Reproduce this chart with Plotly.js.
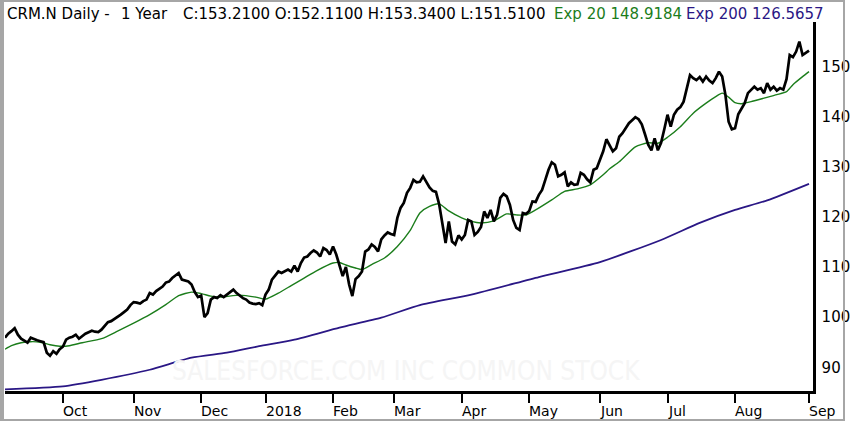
<!DOCTYPE html>
<html>
<head>
<meta charset="utf-8">
<script src="https://cdn.plot.ly/plotly-3.0.1.min.js"></script>
<style>
  html, body { margin: 0; padding: 0; background: #ffffff; }
  #wrap { position: relative; width: 850px; height: 424px; }
  #chart { position: absolute; left: 0; top: 0; width: 850px; height: 424px; }
  #frame { position: absolute; left: 0; top: 0; width: 845px; height: 421px; box-sizing: border-box;
           border: 2px solid #a6a6a6; border-left-width: 4px; pointer-events: none; }
</style>
</head>
<body>
<div id="wrap"><div id="chart"></div><div id="frame"></div></div>
<script>
// ---- data ----
const closes = [
  95.9,96.7,97.2,97.8,96.5,95.7,95.3,94.9,95.9,95.6,
  95.4,95.2,95.0,92.9,92.3,93.2,92.7,93.6,94.1,95.5,
  95.9,96.1,96.5,95.7,96.2,96.7,97.0,97.3,97.1,97.0,
  97.5,98.3,99.0,99.2,99.6,100.0,100.5,101.0,101.5,102.4,
  103.0,102.9,102.7,103.2,103.5,104.8,104.5,105.2,105.6,106.1,
  106.9,107.1,107.8,108.3,108.8,107.5,107.3,107.1,106.5,105.0,
  104.0,104.3,100.0,100.8,103.5,104.0,103.8,104.4,104.0,104.5,
  105.0,105.5,104.8,104.3,103.8,103.5,102.9,102.7,102.6,102.8,
  102.4,104.5,105.5,107.5,108.3,109.1,108.8,109.2,109.5,109.1,
  110.3,109.1,110.8,111.9,112.1,112.8,113.3,112.9,112.1,113.8,
  113.4,112.5,114.1,112.5,110.1,108.2,110.0,106.5,104.2,107.6,
  108.2,109.1,113.1,113.5,114.5,114.0,113.1,115.5,116.3,116.9,
  116.6,116.4,119.8,121.8,122.8,124.8,125.8,127.4,126.9,127.0,
  128.1,127.0,125.9,125.2,125.0,122.5,119.0,114.8,119.1,115.1,
  114.5,116.3,115.5,116.4,119.4,119.1,116.4,117.0,118.0,121.1,
  119.8,121.4,119.1,120.4,123.8,124.6,124.1,122.4,119.4,117.8,
  117.4,120.8,120.6,121.2,123.1,123.0,124.4,125.4,127.4,129.4,
  130.9,130.4,128.1,128.4,128.9,126.1,126.9,126.4,126.5,128.8,
  128.4,127.5,126.9,129.4,129.7,131.4,133.1,135.5,134.4,133.1,
  133.7,136.0,136.7,137.8,138.7,139.3,139.9,139.5,138.5,136.5,
  134.4,133.3,135.7,133.3,134.8,137.5,140.4,138.0,140.4,141.4,
  141.9,143.0,145.7,148.3,147.7,147.3,147.9,147.0,148.0,147.2,
  146.7,147.7,149.0,148.0,144.4,139.0,137.5,137.7,140.5,141.5,
  142.7,144.7,145.4,146.0,145.4,145.7,144.7,146.7,145.4,146.0,
  145.2,145.7,145.4,147.5,152.3,151.9,153.0,155.0,152.3,152.8,
  153.2
];

const ema20Day = [0,2,5,8,11,14,17,20,24,30,35,40,45,50,54,58,61,64,67,73,78,81,85,89,93,97,102,104,106,109,111,114,118,122,126,129,132,135,138,142,145,148,152,156,159,162,165,170,174,178,182,186,188,191,196,200,203,206,210,214,218,221,223,225,227,229,232,236,240,243,245,248,250];
const ema20Val = [93.6,94.3,94.9,95.1,95.0,94.5,94.2,94.3,94.9,95.7,97.2,98.8,100.5,102.5,104.3,105.0,104.7,104.2,104.0,104.4,104.0,103.6,104.8,106.3,107.8,109.3,110.8,110.9,110.4,109.8,109.5,110.5,111.8,114.1,117.3,120.8,122.1,122.6,121.2,119.8,119.1,118.8,119.2,120.6,120.4,120.4,121.4,123.4,125.1,125.6,126.4,128.4,129.6,131.0,134.0,134.8,134.7,135.9,138.0,140.7,142.7,144.0,144.7,143.9,142.8,142.6,143.0,143.7,144.4,145.0,146.4,148.0,149.0];

const ema200Day = [0,18,30,45,58,69,79,90,104,117,129,145,166,185,204,216,227,237,250];
const ema200Val = [85.6,86.2,87.5,89.5,91.9,92.9,94.2,95.5,97.9,99.9,102.4,104.5,108.0,111.0,115.4,118.8,121.4,123.3,126.6];

const monthTickDay   = [18,40,61,81,102,121,142,163,185,206,227,250];
const monthTickLabel = ["Oct","Nov","Dec","2018","Feb","Mar","Apr","May","Jun","Jul","Aug","Sep"];

const priceTicks = [90,100,110,120,130,140,150];

const symbolText = "CRM.N Daily -";
const periodText = "1 Year";
const lastOHLC = {C:"153.2100", O:"152.1100", H:"153.3400", L:"151.5100"};
const ema20Label = "Exp 20 148.9184";
const ema200Label = "Exp 200 126.5657";
const watermark = "SALESFORCE.COM INC COMMON STOCK";

// ---- chart ----
const GREEN = "#1b7d1b";
const PURPLE = "#2a1785";
const dayIndex = closes.map((_, i) => i);

const traces = [
  { x: ema200Day, y: ema200Val, type: "scatter", mode: "lines", line: {color: PURPLE, width: 1.8, shape: "spline", smoothing: 0.6}, hoverinfo: "skip" },
  { x: ema20Day, y: ema20Val, type: "scatter", mode: "lines", line: {color: GREEN, width: 1.4, shape: "spline", smoothing: 0.6}, hoverinfo: "skip" },
  { x: dayIndex, y: closes, type: "scatter", mode: "lines", line: {color: "#000000", width: 2.7}, hoverinfo: "skip" }
];

// header pieces, placed along the top strip (pixel x -> paper x)
const PLOT_L = 5, PLOT_W = 808;
const px = v => (v - PLOT_L) / PLOT_W;
const headerFont = c => ({family: "DejaVu Sans", size: 15, color: c});
const headerPieces = [
  {x: 6,   text: symbolText, color: "#000"},
  {x: 120, text: periodText, color: "#000"},
  {x: 182, text: "C:" + lastOHLC.C + " O:" + lastOHLC.O + " H:" + lastOHLC.H + " L:" + lastOHLC.L, color: "#000"},
  {x: 553, text: ema20Label, color: GREEN},
  {x: 685, text: ema200Label, color: PURPLE}
];

const annotations = headerPieces.map(p => ({
  xref: "paper", yref: "paper", x: px(p.x), y: 1, xanchor: "left", yanchor: "middle", xshift: -1, yshift: 8,
  text: p.text, showarrow: false, font: headerFont(p.color)
}));
annotations.push({ xref: "paper", yref: "paper", x: 0.5, y: 0, xanchor: "center", yanchor: "middle", xshift: -3, yshift: 20,
  text: watermark, showarrow: false, font: {family: "DejaVu Sans Condensed, DejaVu Sans", size: 26, color: "#f5f5f5"} });
monthTickDay.forEach((d, k) => {
  annotations.push({ xref: "x", yref: "paper", x: d, y: 0, xanchor: "left", yanchor: "top", yshift: -10, xshift: -2,
    text: monthTickLabel[k], showarrow: false, font: {family: "DejaVu Sans", size: 14, color: "#000"} });
});

const layout = {
  width: 850, height: 424,
  margin: {l: 5, r: 37, t: 22, b: 33, pad: 0},
  paper_bgcolor: "#ffffff", plot_bgcolor: "#ffffff",
  showlegend: false,
  xaxis: {
    range: [0, 251.24], showgrid: false, zeroline: false,
    showline: true, linecolor: "#000", linewidth: 2.6,
    tickmode: "array", tickvals: monthTickDay, ticktext: monthTickLabel,
    ticks: "outside", ticklen: 9, tickwidth: 2, tickcolor: "#000",
    showticklabels: false
  },
  yaxis: {
    side: "right", range: [85.26, 158.9], showgrid: false, zeroline: false,
    showline: true, linecolor: "#000", linewidth: 2.6,
    tickmode: "array", tickvals: priceTicks, ticks: "", ticklabelstandoff: 3,
    tickfont: {family: "DejaVu Sans", size: 15, color: "#000"}
  },
  annotations: annotations
};

Plotly.newPlot("chart", traces, layout, {displayModeBar: false, staticPlot: true});
</script>
</body>
</html>
